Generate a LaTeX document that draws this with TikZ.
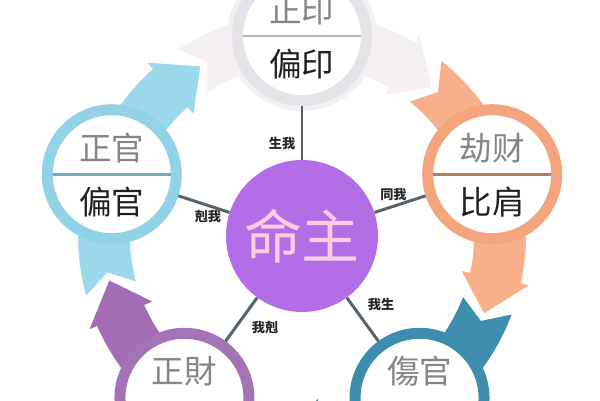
\documentclass[tikz,border=0pt]{standalone}
\usepackage{fontspec}
\usepackage{tikz}
\usetikzlibrary{positioning}
\newfontfamily\hanzi{Noto Sans CJK SC}
\definecolor{coreviolet}{HTML}{B36DE6}
\definecolor{corepink}{HTML}{F9CFE0}
\definecolor{ringgray}{HTML}{E6E3E8}
\definecolor{bandgray}{HTML}{F3EFF3}
\definecolor{ringorange}{HTML}{F3A57E}
\definecolor{bandorange}{HTML}{F7B089}
\definecolor{ringteal}{HTML}{3C8DAE}
\definecolor{ringplum}{HTML}{A374B5}
\definecolor{bandplum}{HTML}{A46CB4}
\definecolor{ringsky}{HTML}{92D2E6}
\definecolor{bandsky}{HTML}{9CD8EB}
\definecolor{spokegray}{HTML}{56636C}
\definecolor{textgray}{HTML}{858585}
\definecolor{textdark}{HTML}{202020}
\tikzset{%
  core/.style={circle, fill=coreviolet, minimum size=3.04cm, inner sep=0pt,
    font=\hanzi\fontsize{33}{33}\selectfont, text=corepink},
  ring/.style={circle, draw=#1, fill=white, line width=0.22cm,
    minimum size=2.58cm, inner sep=0pt},
  band/.style={fill=#1, draw=white, line width=1.2pt},
  toptext/.style={font=\hanzi\fontsize{18.5}{20}\selectfont, text=textgray, inner sep=0pt},
  bottext/.style={font=\hanzi\fontsize{18.5}{20}\selectfont, text=textdark, inner sep=0pt},
  divider/.style={draw=#1, line width=1.5pt},
  spoke/.style={draw=spokegray, line width=1.7pt},
  tag/.style={font=\hanzi\bfseries\fontsize{7.5}{8}\selectfont, text=black!85, inner sep=3pt}
}
% band from swallow tail to arrow head, clockwise round the cycle
\newcommand{\cycleband}[2]{%
  \filldraw[band=#2] (#1+34:225) arc[start angle=#1+34, end angle=#1-30, radius=225]
    -- (#1-30:235) -- (#1-41.5:198) -- (#1-30:161) -- (#1-30:171)
    arc[start angle=#1-30, end angle=#1+34, radius=171] -- (#1+29:198) -- cycle;}

\begin{document}
\begin{tikzpicture}[x=0.02cm, y=0.02cm]
    \useasboundingbox (-302,-164) rectangle (298,236);
    \clip (-302,-164) rectangle (298,236);

    \cycleband{90}{bandgray}
    \cycleband{18}{bandorange}
    \cycleband{-54}{ringteal}
    \cycleband{-126}{bandplum}
    \cycleband{162}{bandsky}

    \fill[bandgray] (90:200) circle[radius=75];
    \node[ring=ringgray] (zhengyin) at (90:200) {};
    \node[ring=ringorange] (jiecai) at (18:200) {};
    \node[ring=ringteal] (shangguan) at (-54:200) {};
    \node[ring=ringplum] (zhengcai) at (-126:200) {};
    \node[ring=ringsky] (zhengguan) at (162:200) {};

    \node[core] (mingzhu) at (0,0) {命主};

    \draw[spoke] (mingzhu) -- (zhengyin) node[tag, pos=0.3, auto=left] {生我};
    \draw[spoke] (mingzhu) -- (jiecai) node[tag, pos=0.37, above, inner sep=2pt] {同我};
    \draw[spoke] (mingzhu) -- (shangguan) node[tag, pos=0.45, auto=left] {我生};
    \draw[spoke] (mingzhu) -- (zhengcai) node[tag, pos=0.38, auto=left] {我剋};
    \draw[spoke] (mingzhu) -- (zhengguan) node[tag, pos=0.42, below, inner sep=2pt] {剋我};

    \draw[divider=ringgray!80!black] ([xshift=-1.18cm]zhengyin.center) -- ([xshift=1.18cm]zhengyin.center);
    \draw[divider=ringorange!75!black] ([xshift=-1.18cm]jiecai.center) -- ([xshift=1.18cm]jiecai.center);
    \draw[divider=ringsky!80!black] ([xshift=-1.18cm]zhengguan.center) -- ([xshift=1.18cm]zhengguan.center);

    \node[toptext, above=0.22cm of zhengyin.center] (zhengyinA) {正印};
    \node[bottext, below=0.25cm of zhengyin.center] (zhengyinB) {偏印};
    \node[toptext, above=0.22cm of jiecai.center] (jiecaiA) {劫财};
    \node[bottext, below=0.25cm of jiecai.center] (jiecaiB) {比肩};
    \node[toptext, above=0.22cm of shangguan.center] (shangguanA) {傷官};
    \node[toptext, above=0.22cm of zhengcai.center] (zhengcaiA) {正財};
    \node[toptext, above=0.22cm of zhengguan.center] (zhengguanA) {正官};
    \node[bottext, below=0.25cm of zhengguan.center] (zhengguanB) {偏官};
\end{tikzpicture}
\end{document}
